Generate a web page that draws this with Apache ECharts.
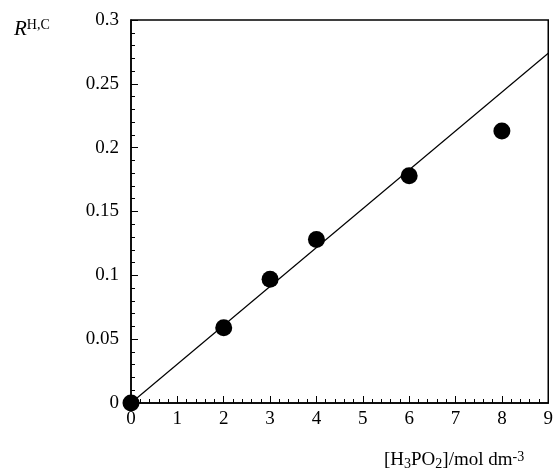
<!DOCTYPE html>
<html>
<head>
<meta charset="utf-8">
<script src="https://cdn.jsdelivr.net/npm/echarts@6/dist/echarts.min.js"></script>
<style>
  html, body { margin: 0; padding: 0; background: #fff; }
  #chart { width: 556px; height: 475px; }
</style>
</head>
<body>
<div id="chart"></div>
<script>
// measured points
const conc = [0, 2, 3, 4, 6, 8]
const ratio = [0, 0.059, 0.097, 0.128, 0.178, 0.213]
// fitted line ends
const fitX = [0, 9]
const fitY = [0, 0.274]

const font = 'Liberation Serif'
const chart = echarts.init(document.getElementById('chart'))

chart.setOption({
  animation: false,
  grid: {
    left: 131, right: 6, top: 20, bottom: 72,
    show: true, borderColor: '#000', borderWidth: 1.5, backgroundColor: 'transparent'
  },
  xAxis: {
    type: 'value', min: 0, max: 9, interval: 1,
    axisLine: { lineStyle: { color: '#000', width: 1.5 } },
    axisTick: { inside: true, length: 7, lineStyle: { color: '#000' } },
    minorTick: { show: true, splitNumber: 5, length: 4, lineStyle: { color: '#000' } },
    splitLine: { show: false },
    axisLabel: { color: '#000', fontFamily: font, fontSize: 19, margin: 7 }
  },
  yAxis: {
    type: 'value', min: 0, max: 0.3, interval: 0.05,
    axisLine: { lineStyle: { color: '#000', width: 1.5 } },
    axisTick: { inside: true, length: 7, lineStyle: { color: '#000' } },
    minorTick: { show: true, splitNumber: 5, length: 4, lineStyle: { color: '#000' } },
    splitLine: { show: false },
    axisLabel: { color: '#000', fontFamily: font, fontSize: 19, margin: 12 }
  },
  series: [
    {
      type: 'line',
      data: fitX.map((x, i) => [x, fitY[i]]),
      symbol: 'none',
      lineStyle: { color: '#000', width: 1.2 },
      z: 2
    },
    {
      type: 'scatter',
      data: conc.map((x, i) => [x, ratio[i]]),
      symbol: 'circle',
      symbolSize: 17,
      itemStyle: { color: '#000', opacity: 1 },
      clip: false,
      z: 3
    }
  ],
  graphic: [
    {
      type: 'text', left: 14, top: 18,
      style: {
        rich: {
          r: { fontFamily: font, fontSize: 21, fontStyle: 'italic', fill: '#000' },
          s: { fontFamily: font, fontSize: 14, fill: '#000', verticalAlign: 'top', padding: [0, 0, 9, 0] }
        },
        text: '{r|R}{s|H,C}'
      }
    },
    {
      type: 'text', left: 384, top: 450,
      style: {
        rich: {
          t: { fontFamily: font, fontSize: 19, fill: '#000' },
          b: { fontFamily: font, fontSize: 14, fill: '#000', padding: [7, 0, 0, 0] },
          p: { fontFamily: font, fontSize: 14, fill: '#000', padding: [0, 0, 7, 0] }
        },
        text: '{t|[H}{b|3}{t|PO}{b|2}{t|]/mol dm}{p|-3}'
      }
    }
  ]
})
</script>
</body>
</html>
